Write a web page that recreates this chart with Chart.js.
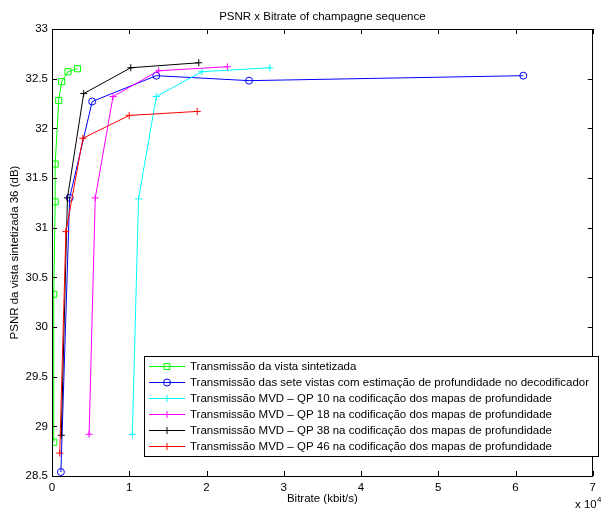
<!DOCTYPE html>
<html>
<head>
<meta charset="utf-8">
<script src="https://cdn.jsdelivr.net/npm/chart.js@4.4.0/dist/chart.umd.min.js"></script>
<style>
  html, body { margin: 0; padding: 0; background: #fff; }
  #wrap { width: 601px; height: 511px; }
</style>
</head>
<body>
<div id="wrap"><canvas id="psnrChart" width="601" height="511"></canvas></div>
<script>
// bitrate in kbit/s, PSNR in dB
const labels = [
    "Transmissão da vista sintetizada",
    "Transmissão das sete vistas com estimação de profundidade no decodificador",
    "Transmissão MVD – QP 10 na codificação dos mapas de profundidade",
    "Transmissão MVD – QP 18 na codificação dos mapas de profundidade",
    "Transmissão MVD – QP 38 na codificação dos mapas de profundidade",
    "Transmissão MVD – QP 46 na codificação dos mapas de profundidade"
];
const synthRate = [230, 230, 410, 410, 870, 1250, 2070, 3300];
const synthPsnr = [28.84, 30.33, 31.26, 31.64, 32.28, 32.47, 32.57, 32.60];
const sevenRate = [1150, 2280, 5200, 13500, 25500, 61000];
const sevenPsnr = [28.54, 31.30, 32.27, 32.53, 32.48, 32.53];
const qp10Rate = [10400, 11200, 13500, 19400, 28200];
const qp10Psnr = [28.92, 31.29, 32.32, 32.57, 32.61];
const qp18Rate = [4800, 5600, 7900, 13800, 22700];
const qp18Psnr = [28.92, 31.30, 32.32, 32.58, 32.62];
const qp38Rate = [1200, 2000, 4100, 10200, 19000];
const qp38Psnr = [28.91, 31.30, 32.35, 32.61, 32.66];
const qp46Rate = [1000, 1800, 4000, 10000, 18800];
const qp46Psnr = [28.73, 30.96, 31.90, 32.13, 32.17];
const xTicks = [0, 1, 2, 3, 4, 5, 6, 7];
const yMin = 28.5, yMax = 33, yStep = 0.5;

const FONT = "'Liberation Sans', Arial, sans-serif";
const FS = 11.5;
Chart.defaults.font.family = FONT;
Chart.defaults.font.size = FS;
Chart.defaults.color = "#000";

function pts(xs, ys) {
    return xs.map((x, i) => ({ x: x, y: ys[i] }));
}

function series(i, xs, ys, color, style, r) {
    return {
        label: labels[i],
        data: pts(xs, ys),
        showLine: true,
        borderColor: color,
        backgroundColor: "rgba(0,0,0,0)",
        borderWidth: 1,
        pointStyle: style,
        pointRadius: r,
        pointBorderColor: color,
        pointBorderWidth: 1,
        pointBackgroundColor: "rgba(0,0,0,0)",
        tension: 0,
        order: 6 - i
    };
}

function drawMarker(ctx, style, x, y, color) {
    ctx.save();
    ctx.strokeStyle = color;
    ctx.lineWidth = 1;
    ctx.beginPath();
    if (style === "rect") {
        ctx.rect(x - 3, y - 3, 6, 6);
    } else if (style === "circle") {
        ctx.arc(x, y, 3.5, 0, Math.PI * 2);
    } else {
        ctx.moveTo(x - 3.5, y); ctx.lineTo(x + 3.5, y);
        ctx.moveTo(x, y - 3.5); ctx.lineTo(x, y + 3.5);
    }
    ctx.stroke();
    ctx.restore();
}

// box, inward ticks, title, exponent and legend (matlab look)
const matlabFrame = {
    id: "matlabFrame",
    afterDatasetsDraw(chart) {
        const ctx = chart.ctx;
        const a = chart.chartArea;
        const xs = chart.scales.x, ys = chart.scales.y;
        const tl = 5;
        ctx.save();
        ctx.strokeStyle = "#000";
        ctx.lineWidth = 1;
        ctx.beginPath();
        xs.ticks.forEach(t => {
            const px = Math.round(xs.getPixelForValue(t.value)) + 0.5;
            ctx.moveTo(px, a.bottom); ctx.lineTo(px, a.bottom - tl);
            ctx.moveTo(px, a.top); ctx.lineTo(px, a.top + tl);
        });
        ys.ticks.forEach(t => {
            const py = Math.round(ys.getPixelForValue(t.value)) + 0.5;
            ctx.moveTo(a.left, py); ctx.lineTo(a.left + tl, py);
            ctx.moveTo(a.right, py); ctx.lineTo(a.right - tl, py);
        });
        ctx.stroke();
        ctx.strokeRect(Math.round(a.left) + 0.5, Math.round(a.top) + 0.5,
            Math.round(a.right - a.left) - 1, Math.round(a.bottom - a.top));

        // title
        ctx.fillStyle = "#000";
        ctx.font = FS + "px " + FONT;
        ctx.textAlign = "center";
        ctx.textBaseline = "middle";
        ctx.fillText("PSNR x Bitrate of champagne sequence", (a.left + a.right) / 2, 17);

        // x 10^4
        ctx.textAlign = "left";
        ctx.fillText("x 10", 575, 505);
        ctx.font = "8px " + FONT;
        ctx.fillText("4", 597, 500);

        // legend
        const lx = 144, ly = 356, lw = 454, lh = 100;
        ctx.fillStyle = "#fff";
        ctx.fillRect(lx, ly, lw, lh);
        ctx.strokeRect(lx + 0.5, ly + 0.5, lw, lh);
        ctx.font = FS + "px " + FONT;
        ctx.textBaseline = "middle";
        chart.data.datasets.forEach((ds, i) => {
            const yy = Math.round(ly + 9.5 + i * 16) + 0.5;
            ctx.strokeStyle = ds.borderColor;
            ctx.beginPath();
            ctx.moveTo(lx + 5, yy); ctx.lineTo(lx + 41, yy);
            ctx.stroke();
            drawMarker(ctx, ds.pointStyle, lx + 23, yy, ds.borderColor);
            ctx.fillStyle = "#000";
            ctx.fillText(ds.label, lx + 46, yy);
        });
        ctx.restore();
    }
};

new Chart(document.getElementById("psnrChart"), {
    type: "scatter",
    data: {
        datasets: [
            series(0, synthRate, synthPsnr, "#00ff00", "rect", 4.3),
            series(1, sevenRate, sevenPsnr, "#0000ff", "circle", 3.5),
            series(2, qp10Rate, qp10Psnr, "#00ffff", "cross", 3.5),
            series(3, qp18Rate, qp18Psnr, "#ff00ff", "cross", 3.5),
            series(4, qp38Rate, qp38Psnr, "#000000", "cross", 3.5),
            series(5, qp46Rate, qp46Psnr, "#ff0000", "cross", 3.5)
        ]
    },
    options: {
        responsive: false,
        animation: false,
        layout: { padding: { top: 29, right: 1, left: 0, bottom: 0 } },
        plugins: {
            legend: { display: false },
            tooltip: { enabled: false }
        },
        scales: {
            x: {
                type: "linear",
                min: xTicks[0] * 10000,
                max: xTicks[xTicks.length - 1] * 10000,
                afterBuildTicks: s => { s.ticks = xTicks.map(v => ({ value: v * 10000 })); },
                ticks: {
                    padding: 5,
                    maxRotation: 0,
                    callback: v => String(v / 10000)
                },
                grid: { display: false, drawTicks: false },
                border: { display: false },
                title: {
                    display: true,
                    text: "Bitrate (kbit/s)",
                    padding: { top: 0, bottom: 5 }
                },
                afterFit: s => { s.height = 35; }
            },
            y: {
                type: "linear",
                min: yMin,
                max: yMax,
                ticks: {
                    stepSize: yStep,
                    padding: 4,
                    callback: v => String(Math.round(v * 10) / 10)
                },
                grid: { display: false, drawTicks: false },
                border: { display: false },
                title: {
                    display: true,
                    text: "PSNR da vista sintetizada 36 (dB)",
                    padding: { top: 7.5, bottom: 0 }
                },
                afterFit: s => { s.width = 52; }
            }
        }
    },
    plugins: [matlabFrame]
});
</script>
</body>
</html>
